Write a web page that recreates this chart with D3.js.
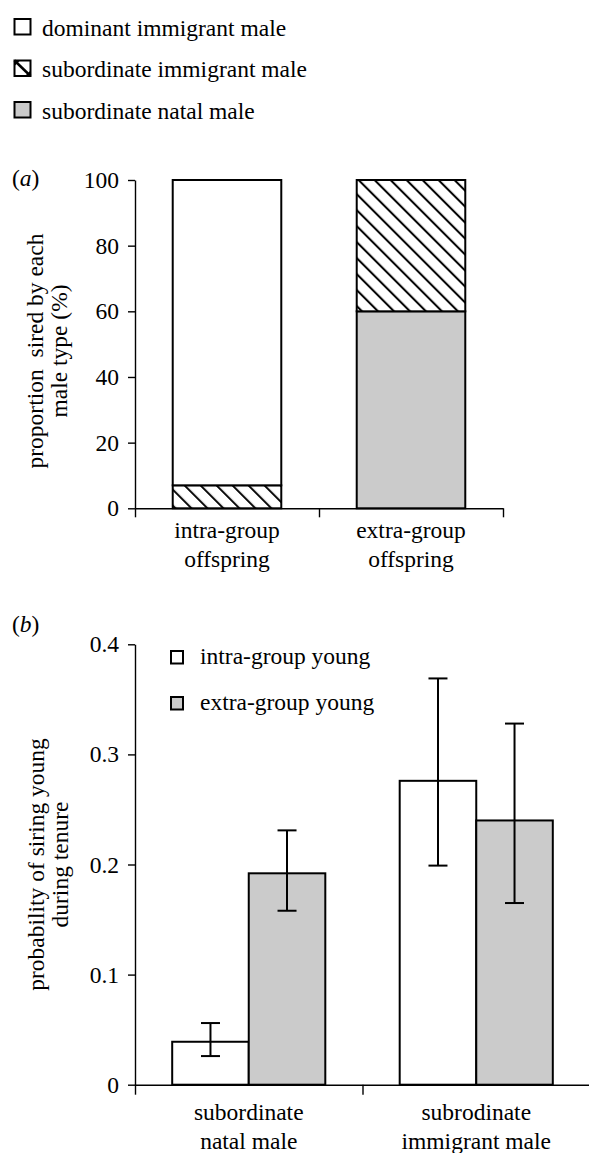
<!DOCTYPE html>
<html>
<head>
<meta charset="utf-8">
<script src="https://cdn.jsdelivr.net/npm/d3@7"></script>
<style>
  html, body { margin: 0; padding: 0; background: #ffffff; }
  svg { display: block; }
  svg text { font-family: "Liberation Serif", "DejaVu Serif", serif !important; fill: #000; }
</style>
</head>
<body>
<svg id="chart" width="589" height="1153"></svg>
<script>
// ---------- data ----------
const maleTypes = ["dominant immigrant male", "subordinate immigrant male", "subordinate natal male"];
const offspringCategories = ["intra-group offspring", "extra-group offspring"];
const offspringCategoryLines = [["intra-group", "offspring"], ["extra-group", "offspring"]];
const dominantImmigrantPct = [93, 0];
const subordinateImmigrantPct = [7, 40];
const subordinateNatalPct = [0, 60];
const panelATicks = [0, 20, 40, 60, 80, 100];

const youngTypes = ["intra-group young", "extra-group young"];
const maleCategories = ["subordinate natal male", "subrodinate immigrant male"];
const maleCategoryLines = [["subordinate", "natal male"], ["subrodinate", "immigrant male"]];
const intraGroupYoung = [0.039, 0.276];
const intraGroupLower = [0.026, 0.199];
const intraGroupUpper = [0.056, 0.369];
const extraGroupYoung = [0.192, 0.240];
const extraGroupLower = [0.158, 0.165];
const extraGroupUpper = [0.231, 0.328];
const panelBTicks = [0, 0.1, 0.2, 0.3, 0.4];

// ---------- setup ----------
const FS = 23.5;
const FONT = "'Liberation Serif', 'DejaVu Serif', serif";
const GRAY = "#cbcbcb";
const svg = d3.select("#chart");
svg.append("rect").attr("width", 589).attr("height", 1153).attr("fill", "#fff");

const defs = svg.append("defs");
const pat = defs.append("pattern")
  .attr("id", "hatch")
  .attr("patternUnits", "userSpaceOnUse")
  .attr("width", 11.3).attr("height", 11.3)
  .attr("patternTransform", "rotate(-45)");
pat.append("rect").attr("width", 11.3).attr("height", 11.3).attr("fill", "#fff");
pat.append("line").attr("x1", 2).attr("y1", -2).attr("x2", 2).attr("y2", 14)
  .attr("stroke", "#000").attr("stroke-width", 2);

const fills = {
  "dominant immigrant male": "#fff",
  "subordinate immigrant male": "url(#hatch)",
  "subordinate natal male": GRAY
};

// ---------- top legend ----------
const legA = svg.append("g");
maleTypes.forEach((m, i) => {
  const yTop = 19 + i * 41.5;
  const g = legA.append("g");
  g.append("rect").attr("x", 14.5).attr("y", yTop).attr("width", 16).attr("height", 15.5)
    .attr("fill", m === "subordinate natal male" ? GRAY : "#fff")
    .attr("stroke", "#000").attr("stroke-width", 2);
  if (m === "subordinate immigrant male") {
    g.append("line").attr("x1", 14.5).attr("y1", yTop).attr("x2", 30.5).attr("y2", yTop + 15.5)
      .attr("stroke", "#000").attr("stroke-width", 2.5);
    g.append("path").attr("d", `M14.5,${yTop} L20,${yTop} L14.5,${yTop + 5.5}Z`).attr("fill", "#000");
    g.append("path").attr("d", `M30.5,${yTop + 15.5} L25,${yTop + 15.5} L30.5,${yTop + 10}Z`).attr("fill", "#000");
  }
  g.append("text").attr("x", 42).attr("y", yTop + 16.5).attr("font-size", FS).text(m);
});

// ---------- panel (a) ----------
const yA = d3.scaleLinear().domain([0, 100]).range([508.3, 180]);
const xA = d3.scaleBand().domain(offspringCategories).range([135, 503]).padding(0);
const xAedges = d3.scaleLinear().domain([0, offspringCategories.length]).range(xA.range());
const barWA = xA.bandwidth() * 0.59;

const tableA = offspringCategories.map((c, i) => ({
  cat: c,
  "subordinate natal male": subordinateNatalPct[i],
  "subordinate immigrant male": subordinateImmigrantPct[i],
  "dominant immigrant male": dominantImmigrantPct[i]
}));
const stackA = d3.stack().keys(["subordinate natal male", "subordinate immigrant male", "dominant immigrant male"])(tableA);

const gA = svg.append("g");
stackA.forEach(layer => {
  layer.forEach(d => {
    if (d[1] - d[0] <= 0) return;
    gA.append("rect")
      .attr("x", xA(d.data.cat) + (xA.bandwidth() - barWA) / 2)
      .attr("y", yA(d[1]))
      .attr("width", barWA)
      .attr("height", yA(d[0]) - yA(d[1]))
      .attr("fill", fills[layer.key])
      .attr("stroke", "#000").attr("stroke-width", 2);
  });
});

// y axis (a)
gA.append("g").attr("transform", "translate(135,0)")
  .call(d3.axisLeft(yA).tickValues(panelATicks).tickSize(7).tickSizeOuter(0).tickPadding(9).tickFormat(d3.format("d")));
// x axis (a) with boundary ticks
gA.append("g").attr("transform", `translate(0,${yA(0)})`)
  .call(d3.axisBottom(xAedges).tickValues(d3.range(offspringCategories.length + 1)).tickSize(9).tickSizeOuter(0).tickFormat(""));

offspringCategoryLines.forEach((lines, i) => {
  const cx = xA(offspringCategories[i]) + xA.bandwidth() / 2;
  lines.forEach((l, j) => {
    gA.append("text").attr("x", cx).attr("y", 538.3 + j * 28.5).attr("text-anchor", "middle")
      .attr("font-size", FS).text(l);
  });
});

// y title (a)
[["proportion\u00a0 sired by each", 43], ["male type (%)", 66.5]].forEach(([t, bx]) => {
  gA.append("text").attr("transform", `translate(${bx},351) rotate(-90)`)
    .attr("text-anchor", "middle").attr("font-size", FS).text(t);
});
const labA = gA.append("text").attr("x", 12).attr("y", 186).attr("font-size", FS);
labA.append("tspan").text("(");
labA.append("tspan").attr("font-style", "italic").text("a");
labA.append("tspan").text(")");

// ---------- panel (b) ----------
const yB = d3.scaleLinear().domain([0, 0.4]).range([1084.7, 644.3]);
const xB = d3.scaleBand().domain(maleCategories).range([135, 590]).padding(0);
const xBedges = d3.scaleLinear().domain([0, maleCategories.length]).range(xB.range());
const groupW = xB.bandwidth() * 0.673;
const xSub = d3.scaleBand().domain(youngTypes).range([0, groupW]).padding(0);

const tableB = [];
maleCategories.forEach((c, i) => {
  tableB.push({ cat: c, type: youngTypes[0], v: intraGroupYoung[i], lo: intraGroupLower[i], hi: intraGroupUpper[i] });
  tableB.push({ cat: c, type: youngTypes[1], v: extraGroupYoung[i], lo: extraGroupLower[i], hi: extraGroupUpper[i] });
});
const typeFill = { "intra-group young": "#fff", "extra-group young": GRAY };

const gB = svg.append("g");
tableB.forEach(d => {
  const x0 = xB(d.cat) + (xB.bandwidth() - groupW) / 2 + xSub(d.type);
  gB.append("rect").attr("x", x0).attr("y", yB(d.v))
    .attr("width", xSub.bandwidth()).attr("height", yB(0) - yB(d.v))
    .attr("fill", typeFill[d.type]).attr("stroke", "#000").attr("stroke-width", 2);
});
tableB.forEach(d => {
  const cx = xB(d.cat) + (xB.bandwidth() - groupW) / 2 + xSub(d.type) + xSub.bandwidth() / 2;
  gB.append("line").attr("x1", cx).attr("x2", cx).attr("y1", yB(d.lo)).attr("y2", yB(d.hi))
    .attr("stroke", "#000").attr("stroke-width", 2);
  [d.lo, d.hi].forEach(v => {
    gB.append("line").attr("x1", cx - 9.5).attr("x2", cx + 9.5).attr("y1", yB(v)).attr("y2", yB(v))
      .attr("stroke", "#000").attr("stroke-width", 2);
  });
});

gB.append("g").attr("transform", "translate(135,0)")
  .call(d3.axisLeft(yB).tickValues(panelBTicks).tickSize(7).tickSizeOuter(0).tickPadding(9)
    .tickFormat(d => d === 0 ? "0" : d3.format(".1f")(d)));
gB.append("g").attr("transform", `translate(0,${yB(0)})`)
  .call(d3.axisBottom(xBedges).tickValues(d3.range(maleCategories.length + 1)).tickSize(10).tickSizeOuter(0).tickFormat(""));

maleCategoryLines.forEach((lines, i) => {
  const cx = xB(maleCategories[i]) + xB.bandwidth() / 2;
  lines.forEach((l, j) => {
    gB.append("text").attr("x", cx).attr("y", 1120 + j * 28.5).attr("text-anchor", "middle")
      .attr("font-size", FS).text(l);
  });
});

[["probability of siring young", 43.5], ["during tenure", 67.5]].forEach(([t, bx]) => {
  gB.append("text").attr("transform", `translate(${bx},${(yB(0) + yB(0.4)) / 2}) rotate(-90)`)
    .attr("text-anchor", "middle").attr("font-size", FS).text(t);
});
const labB = gB.append("text").attr("x", 12).attr("y", 632).attr("font-size", FS);
labB.append("tspan").text("(");
labB.append("tspan").attr("font-style", "italic").text("b");
labB.append("tspan").text(")");

// legend (b)
youngTypes.forEach((t, i) => {
  const yTop = 651 + i * 46;
  gB.append("rect").attr("x", 171).attr("y", yTop).attr("width", 12).attr("height", 12.5)
    .attr("fill", typeFill[t]).attr("stroke", "#000").attr("stroke-width", 2);
  gB.append("text").attr("x", 200).attr("y", yTop + 12.5).attr("font-size", FS).text(t);
});

// axis styling + fonts
svg.selectAll("g").attr("font-family", FONT);
svg.selectAll(".domain").attr("stroke", "#000").attr("stroke-width", 1.4);
svg.selectAll(".tick line").attr("stroke", "#000").attr("stroke-width", 1.4);
svg.selectAll(".tick text").attr("font-size", FS).attr("fill", "#000");
svg.selectAll("text").attr("font-family", FONT).style("font-family", FONT);
</script>
</body>
</html>
